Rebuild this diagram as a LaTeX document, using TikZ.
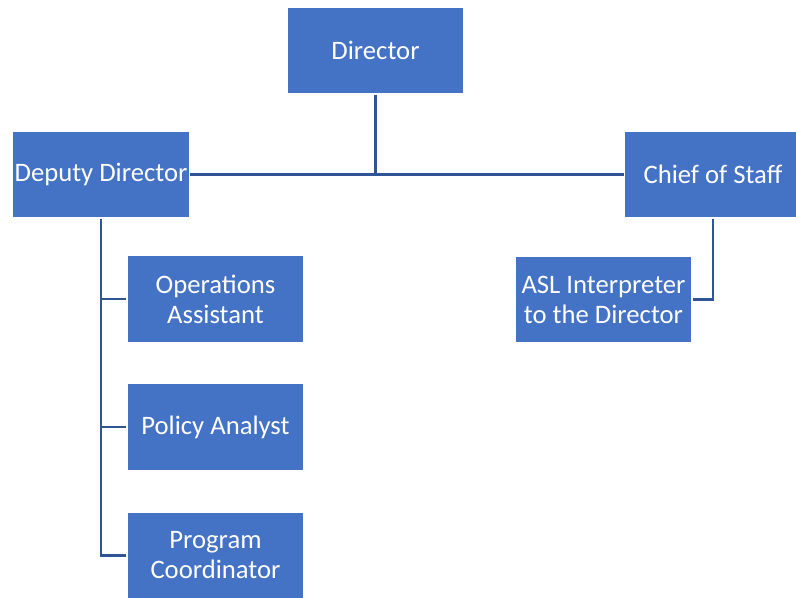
\documentclass[tikz,border=0pt]{standalone}
\usepackage{fontspec}
\setmainfont{Carlito}
\usepackage{tikz}
\usetikzlibrary{positioning}
\definecolor{boxblue}{HTML}{4472C4}
\definecolor{lineblue}{HTML}{2F5597}
\tikzstyle{post} = [rectangle, minimum width=132.75pt, minimum height=65.25pt, text centered, align=center, draw=white, line width=0.8pt, fill=boxblue, text=white, font=\fontsize{20}{22.5}\selectfont, inner sep=0pt]
\tikzstyle{link} = [draw=lineblue, line width=2pt]

\begin{document}
\begin{tikzpicture}[x=0.75pt, y=-0.75pt]
\useasboundingbox (0,0) rectangle (796,598);

\node (director) [post] at (375.5,50.5) {Director};
\node (deputy) [post] at (101,174.5) {Deputy Director};
\node (chief) [post] at (713,174.5) {Chief of Staff};

\node (ops) [post] at (215.5,299) {Operations\\Assistant};
\node (policy) [post] at (215.5,427) {Policy Analyst};
\node (program) [post] at (215.5,555.5) {Program\\Coordinator};
\node (asl) [post] at (603.5,299.5) {ASL Interpreter\\to the Director};

\draw [link] (director.south) -- (director.south |- deputy.east);
\draw [link] (deputy.east) -- (chief.west);

\draw [link] (deputy.south) |- (ops.west);
\draw [link] (deputy.south) |- (policy.west);
\draw [link] (deputy.south) |- (program.west);

\draw [link] (chief.south) |- (asl.east);

\end{tikzpicture}
\end{document}
